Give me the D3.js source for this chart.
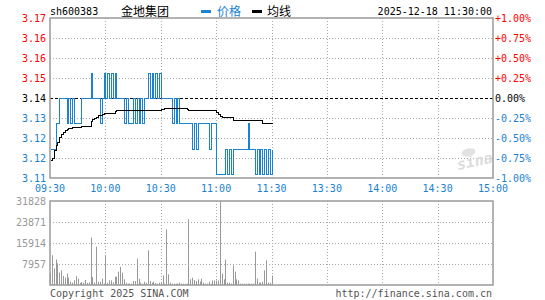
<!DOCTYPE html>
<html>
<head>
<meta charset="utf-8">
<script src="https://cdn.jsdelivr.net/npm/d3@7"></script>
<style>
  body { margin: 0; background: #fff; }
  text { font-family: "DejaVu Sans Mono", monospace; font-size: 10px; }
</style>
</head>
<body>
<div id="chart"></div>
<script>
// minute data from 09:30 to 11:30 (morning session only)
const prevClose = 3.14;
const timeLabels = ["09:30", "10:00", "10:30", "11:00", "11:30", "13:30", "14:00", "14:30", "15:00"];
const priceLabels = ["3.17", "3.16", "3.16", "3.15", "3.14", "3.13", "3.12", "3.12", "3.11"];
const pctLabels = ["+1.00%", "+0.75%", "+0.50%", "+0.25%", "0.00%", "-0.25%", "-0.50%", "-0.75%", "-1.00%"];
const pctSteps = [1, 0.75, 0.5, 0.25, 0, -0.25, -0.5, -0.75, -1];
const volLabels = [31828, 23871, 15914, 7957];

const prices = [
  3.12, 3.12, 3.12, 3.13, 3.13, 3.14, 3.14, 3.14, 3.14, 3.13,
  3.14, 3.13, 3.14, 3.13, 3.13, 3.13, 3.13, 3.14, 3.14, 3.14,
  3.14, 3.14, 3.15, 3.14, 3.14, 3.14, 3.14, 3.13, 3.14, 3.15,
  3.14, 3.15, 3.14, 3.15, 3.14, 3.15, 3.14, 3.14, 3.14, 3.14,
  3.13, 3.14, 3.13, 3.13, 3.13, 3.14, 3.13, 3.14, 3.13, 3.14,
  3.13, 3.14, 3.14, 3.15, 3.14, 3.15, 3.14, 3.15, 3.14, 3.15,
  3.14, 3.14, 3.14, 3.14, 3.14, 3.14, 3.13, 3.14, 3.13, 3.14,
  3.13, 3.13, 3.13, 3.13, 3.13, 3.13, 3.13, 3.12, 3.13, 3.12,
  3.13, 3.13, 3.13, 3.13, 3.13, 3.13, 3.12, 3.13, 3.13, 3.13,
  3.11, 3.11, 3.11, 3.11, 3.11, 3.12, 3.11, 3.12, 3.11, 3.12,
  3.12, 3.12, 3.12, 3.12, 3.12, 3.12, 3.12, 3.13, 3.12, 3.12,
  3.12, 3.11, 3.12, 3.11, 3.12, 3.11, 3.12, 3.11, 3.12, 3.11,
  3.12
];

const avgPrices = [
  3.1155, 3.1165, 3.1195, 3.1215, 3.1228, 3.1245, 3.1258, 3.1268, 3.1274, 3.1278,
  3.1281, 3.1283, 3.1285, 3.1287, 3.1287, 3.1287, 3.1288, 3.1289, 3.1290, 3.1290,
  3.1291, 3.1292, 3.1310, 3.1318, 3.1323, 3.1326, 3.1333, 3.1335, 3.1338, 3.1340,
  3.1341, 3.1341, 3.1342, 3.1342, 3.1343, 3.1348, 3.1352, 3.1353, 3.1353, 3.1353,
  3.1353, 3.1353, 3.1353, 3.1353, 3.1354, 3.1354, 3.1354, 3.1354, 3.1354, 3.1354,
  3.1354, 3.1354, 3.1354, 3.1354, 3.1354, 3.1354, 3.1354, 3.1354, 3.1354, 3.1354,
  3.1355, 3.1356, 3.1360, 3.1360, 3.1360, 3.1360, 3.1360, 3.1360, 3.1360, 3.1360,
  3.1360, 3.1360, 3.1360, 3.1360, 3.1358, 3.1353, 3.1353, 3.1353, 3.1353, 3.1353,
  3.1353, 3.1353, 3.1353, 3.1353, 3.1353, 3.1353, 3.1353, 3.1353, 3.1353, 3.1353,
  3.1345, 3.1338, 3.1330, 3.1324, 3.1324, 3.1324, 3.1324, 3.1324, 3.1324, 3.1314,
  3.1314, 3.1314, 3.1314, 3.1314, 3.1314, 3.1314, 3.1314, 3.1314, 3.1314, 3.1314,
  3.1314, 3.1314, 3.1314, 3.1314, 3.1314, 3.1302, 3.1302, 3.1302, 3.1302, 3.1302,
  3.1301
];

const volumes = [
  4300, 11250, 6300, 9700, 8200, 4700, 5550, 3400, 2800, 4300,
  2800, 1260, 880, 1770, 3400, 2400, 760, 1140, 880, 1900,
  760, 1000, 17930, 3030, 900, 14520, 1260, 1260, 2400, 500,
  11250, 880, 1770, 1770, 1000, 3160, 3160, 5050, 6820, 4670,
  2150, 880, 500, 500, 500, 1500, 1500, 9980, 2400, 880,
  500, 1260, 880, 13140, 1500, 880, 1260, 760, 500, 880,
  880, 3660, 500, 21090, 4040, 880, 500, 500, 500, 500,
  880, 500, 500, 500, 500, 24880, 2150, 2780, 1900, 1500,
  2150, 1260, 2400, 880, 500, 500, 1260, 500, 1700, 1700,
  1700, 1700, 31828, 4300, 2150, 9600, 880, 880, 500, 7450,
  5050, 2150, 1700, 500, 500, 500, 500, 500, 500, 500,
  500, 12630, 2500, 880, 880, 1260, 5560, 9350, 880, 880,
  3600
];

const W = 545, H = 300;
const left = 50, right = 493;
const pTop = 18, pBottom = 178;
const vTop = 201, vBottom = 285;

const blue = "#1a82d2";
const red = "#ff0000";
const grid = "#a8a8a8";
const frame = "#9a9a9a";

const svg = d3.select("#chart").append("svg")
  .attr("width", W)
  .attr("height", H);

const x = d3.scaleLinear().domain([0, 240]).range([left, right]);
const y = d3.scaleLinear().domain([prevClose * 0.99, prevClose * 1.01]).range([pBottom, pTop]);
const yv = d3.scaleLinear().domain([0, volLabels[0]]).range([vBottom, vTop]);

const tickMinutes = timeLabels.map((d, i) => i * 30);
const pctPrices = pctSteps.map(p => prevClose * (1 + p / 100));

// ---- price panel grid
svg.append("g").selectAll("line")
  .data(pctPrices.slice(1, -1))
  .enter().append("line")
  .attr("x1", left).attr("x2", right)
  .attr("y1", d => Math.round(y(d)) + 0.5)
  .attr("y2", d => Math.round(y(d)) + 0.5)
  .attr("stroke", (d, i) => i === 3 ? "#000" : grid)
  .attr("stroke-dasharray", (d, i) => i === 3 ? "3,2" : "1,2");

svg.append("g").selectAll("line")
  .data(tickMinutes.slice(1, -1))
  .enter().append("line")
  .attr("x1", d => Math.round(x(d)) + 0.5)
  .attr("x2", d => Math.round(x(d)) + 0.5)
  .attr("y1", pTop).attr("y2", pBottom)
  .attr("stroke", grid)
  .attr("stroke-dasharray", "1,2");

// ---- volume panel grid
svg.append("g").selectAll("line")
  .data(volLabels.slice(1))
  .enter().append("line")
  .attr("x1", left).attr("x2", right)
  .attr("y1", d => Math.round(yv(d)) + 0.5)
  .attr("y2", d => Math.round(yv(d)) + 0.5)
  .attr("stroke", grid)
  .attr("stroke-dasharray", "1,2");

svg.append("g").selectAll("line")
  .data(tickMinutes.slice(1, -1))
  .enter().append("line")
  .attr("x1", d => Math.round(x(d)) + 0.5)
  .attr("x2", d => Math.round(x(d)) + 0.5)
  .attr("y1", vTop).attr("y2", vBottom)
  .attr("stroke", grid)
  .attr("stroke-dasharray", "1,2");

// sina watermark
const wm = svg.append("g").attr("transform", "translate(458,170) rotate(-12)");
wm.append("text")
  .attr("font-family", "Liberation Sans, sans-serif")
  .style("font-size", "15px")
  .attr("font-style", "italic")
  .attr("font-weight", "bold")
  .attr("fill", "#dcdcdc")
  .text("sina");
wm.append("ellipse")
  .attr("cx", 14).attr("cy", -15).attr("rx", 7).attr("ry", 4)
  .attr("fill", "#e2e2e2");

// ---- volume bars
svg.append("g").selectAll("rect")
  .data(volumes)
  .enter().append("rect")
  .attr("x", (d, i) => Math.round(x(i)))
  .attr("y", d => yv(d))
  .attr("width", 1)
  .attr("height", d => vBottom - yv(d))
  .attr("fill", "#999");

// ---- price + average lines
const stepLine = d3.line()
  .x((d, i) => Math.round(x(i)) + 0.5)
  .y(d => Math.round(y(d)) + 0.5)
  .curve(d3.curveStepAfter);

svg.append("path")
  .datum(prices)
  .attr("d", stepLine)
  .attr("fill", "none")
  .attr("stroke", blue)
  .attr("stroke-width", 1.2)
  .attr("shape-rendering", "crispEdges");

svg.append("path")
  .datum(avgPrices)
  .attr("d", stepLine)
  .attr("fill", "none")
  .attr("stroke", "#000")
  .attr("stroke-width", 1)
  .attr("shape-rendering", "crispEdges");

// ---- frames
[[pTop, pBottom], [vTop, vBottom]].forEach(([t, b]) => {
  svg.append("rect")
    .attr("x", left).attr("y", t)
    .attr("width", right - left).attr("height", b - t)
    .attr("fill", "none")
    .attr("stroke", frame)
    .attr("stroke-width", 1.5);
});

// ---- axis labels
const colorFor = i => i < 4 ? red : (i === 4 ? "#000" : blue);

svg.append("g").selectAll("text")
  .data(priceLabels)
  .enter().append("text")
  .attr("x", left - 4)
  .attr("y", (d, i) => y(pctPrices[i]) + 4)
  .attr("text-anchor", "end")
  .attr("fill", (d, i) => colorFor(i))
  .text(d => d);

svg.append("g").selectAll("text")
  .data(pctLabels)
  .enter().append("text")
  .attr("x", right + 2)
  .attr("y", (d, i) => y(pctPrices[i]) + 4)
  .attr("fill", (d, i) => colorFor(i))
  .text(d => d);

svg.append("g").selectAll("text")
  .data(timeLabels)
  .enter().append("text")
  .attr("x", (d, i) => x(tickMinutes[i]))
  .attr("y", 192)
  .attr("text-anchor", "middle")
  .attr("fill", blue)
  .text(d => d);

svg.append("g").selectAll("text")
  .data(volLabels)
  .enter().append("text")
  .attr("x", left - 4)
  .attr("y", d => yv(d) + 4)
  .attr("text-anchor", "end")
  .attr("fill", "#999")
  .text(d => d);

// ---- header
svg.append("text").attr("x", 50).attr("y", 15).attr("fill", "#000").text("sh600383");
svg.append("text").attr("x", 121).attr("y", 16)
  .style("font-family", "'Noto Sans CJK SC', sans-serif").style("font-size", "12px")
  .attr("fill", "#000").text("金地集团");
svg.append("rect").attr("x", 201).attr("y", 10).attr("width", 10).attr("height", 3).attr("fill", blue);
svg.append("text").attr("x", 217).attr("y", 16)
  .style("font-family", "'Noto Sans CJK SC', sans-serif").style("font-size", "12px")
  .attr("fill", blue).text("价格");
svg.append("rect").attr("x", 252).attr("y", 10).attr("width", 10).attr("height", 3).attr("fill", "#000");
svg.append("text").attr("x", 267).attr("y", 16)
  .style("font-family", "'Noto Sans CJK SC', sans-serif").style("font-size", "12px")
  .attr("fill", "#000").text("均线");
svg.append("text").attr("x", 492).attr("y", 15).attr("text-anchor", "end")
  .attr("fill", "#000").text("2025-12-18 11:30:00");

// ---- footer
svg.append("text").attr("x", 50).attr("y", 297).attr("fill", "#555").text("Copyright 2025 SINA.COM");
svg.append("text").attr("x", 492).attr("y", 297).attr("text-anchor", "end")
  .attr("fill", "#555").text("http://finance.sina.com.cn");
</script>
</body>
</html>
